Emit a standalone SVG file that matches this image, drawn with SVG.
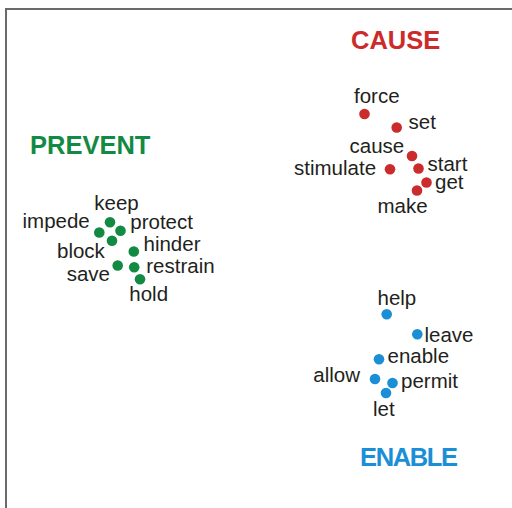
<svg xmlns="http://www.w3.org/2000/svg" width="512" height="508" viewBox="0 0 512 508">
<style>
.w{font-family:"Liberation Sans",Arial,sans-serif;font-size:20.5px;fill:#231f20}
.t{font-family:"Liberation Sans",Arial,sans-serif;font-weight:bold;font-size:25.5px}
.c{fill:#cc2b2b}.p{fill:#138a43}.e{fill:#1b8fd6}
</style>
<rect x="0" y="0" width="512" height="508" fill="#fff"/>
<rect x="6" y="9" width="520" height="520" fill="none" stroke="#6a6a6a" stroke-width="2"/>
<g id="connectors"/>
<g id="title-cause"><text class="t c" x="351" y="48.5">CAUSE</text></g>
<g id="title-prevent"><text class="t p" x="30" y="154">PREVENT</text></g>
<g id="title-enable"><text class="t e" x="360" y="466" textLength="98">ENABLE</text></g>

<g id="force"><circle class="c" cx="364.5" cy="114" r="5.3"/><text class="w" x="354" y="103">force</text></g>
<g id="set"><circle class="c" cx="396.7" cy="127.5" r="5.3"/><text class="w" x="408.5" y="128.5">set</text></g>
<g id="cause"><circle class="c" cx="412" cy="156" r="5.3"/><text class="w" x="349.5" y="152.5">cause</text></g>
<g id="start"><circle class="c" cx="418.5" cy="168.5" r="5.3"/><text class="w" x="427.5" y="171">start</text></g>
<g id="stimulate"><circle class="c" cx="390" cy="169.3" r="5.3"/><text class="w" x="294" y="174.5">stimulate</text></g>
<g id="get"><circle class="c" cx="426.5" cy="182.5" r="5.3"/><text class="w" x="435" y="188.5">get</text></g>
<g id="make"><circle class="c" cx="417" cy="190.5" r="5.3"/><text class="w" x="377.5" y="213">make</text></g>

<g id="keep"><circle class="p" cx="110" cy="222.3" r="5.3"/><text class="w" x="94.3" y="209.5">keep</text></g>
<g id="impede"><circle class="p" cx="99.3" cy="232.5" r="5.3"/><text class="w" x="22.5" y="228">impede</text></g>
<g id="protect"><circle class="p" cx="120.5" cy="230.7" r="5.3"/><text class="w" x="130.3" y="229">protect</text></g>
<g id="block"><circle class="p" cx="112" cy="240.7" r="5.3"/><text class="w" x="57" y="258">block</text></g>
<g id="hinder"><circle class="p" cx="133.8" cy="251.5" r="5.3"/><text class="w" x="143.5" y="250.5">hinder</text></g>
<g id="save"><circle class="p" cx="117.7" cy="265.5" r="5.3"/><text class="w" x="66.7" y="280.5">save</text></g>
<g id="restrain"><circle class="p" cx="134.2" cy="267.3" r="5.3"/><text class="w" x="146.3" y="272.5">restrain</text></g>
<g id="hold"><circle class="p" cx="140" cy="279.3" r="5.3"/><text class="w" x="129.3" y="300.5">hold</text></g>

<g id="help"><circle class="e" cx="386.7" cy="314.3" r="5.3"/><text class="w" x="377.5" y="305">help</text></g>
<g id="leave"><circle class="e" cx="417.3" cy="334.3" r="5.3"/><text class="w" x="424.5" y="341.7">leave</text></g>
<g id="enable"><circle class="e" cx="379" cy="359.3" r="5.3"/><text class="w" x="387.5" y="362.5">enable</text></g>
<g id="allow"><circle class="e" cx="375" cy="379" r="5.3"/><text class="w" x="313.3" y="381.7">allow</text></g>
<g id="permit"><circle class="e" cx="392.5" cy="383" r="5.3"/><text class="w" x="401" y="387.5">permit</text></g>
<g id="let"><circle class="e" cx="386" cy="393" r="5.3"/><text class="w" x="373" y="416">let</text></g>
</svg>
